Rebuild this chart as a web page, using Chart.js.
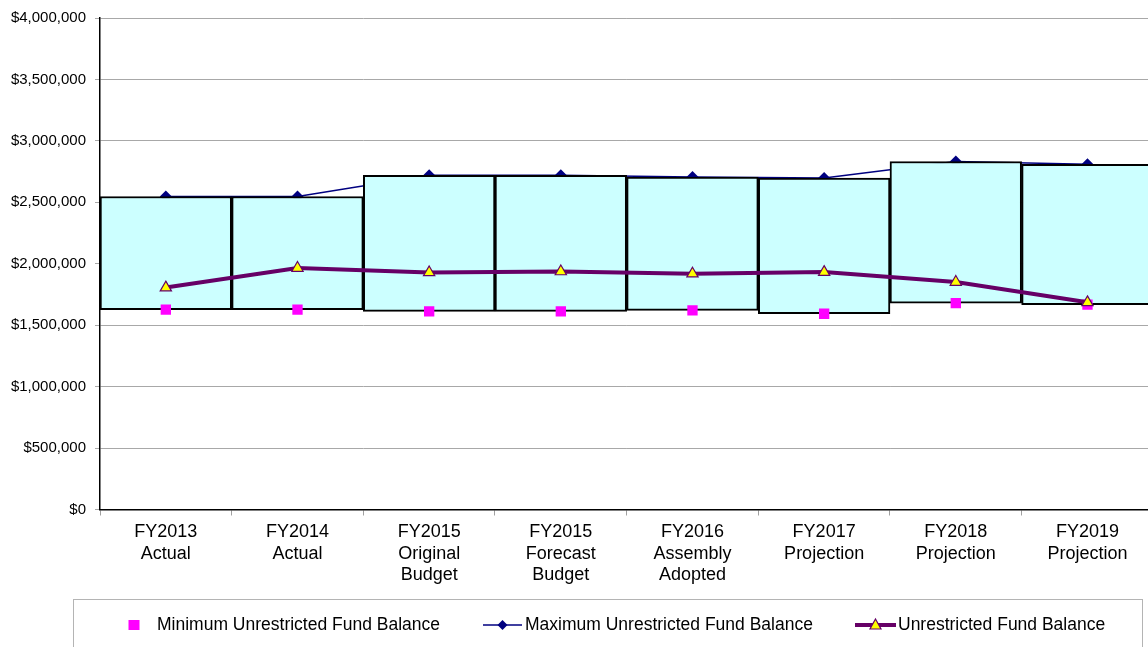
<!DOCTYPE html>
<html>
<head>
<meta charset="utf-8">
<script src="https://cdn.jsdelivr.net/npm/chart.js@4.4.1/dist/chart.umd.min.js"></script>
<style>
  html, body { margin: 0; padding: 0; background: #ffffff; overflow: hidden; }
  #wrap { width: 1148px; height: 647px; position: relative; overflow: hidden; }
  #chart { display: block; }
</style>
</head>
<body>
<div id="wrap"><canvas id="chart" width="1161" height="647"></canvas></div>
<script>
// Fiscal years shown on the category axis (multi-line labels)
const categories = [
  ['FY2013', 'Actual'],
  ['FY2014', 'Actual'],
  ['FY2015', 'Original', 'Budget'],
  ['FY2015', 'Forecast', 'Budget'],
  ['FY2016', 'Assembly', 'Adopted'],
  ['FY2017', 'Projection'],
  ['FY2018', 'Projection'],
  ['FY2019', 'Projection']
];

// Fund balance policy range and actual/projected balance, in dollars
const minBalance = [1626000, 1626000, 1612000, 1612000, 1620000, 1593000, 1680000, 1667000];
const maxBalance = [2547000, 2547000, 2720000, 2720000, 2705000, 2697000, 2832000, 2810000];
const unrestrictedBalance = [1806000, 1965000, 1929000, 1937000, 1919000, 1932000, 1851000, 1686000];

// Value axis ticks
const yTicks = [0, 500000, 1000000, 1500000, 2000000, 2500000, 3000000, 3500000, 4000000];

const seriesNames = [
  'Minimum Unrestricted Fund Balance',
  'Maximum Unrestricted Fund Balance',
  'Unrestricted Fund Balance'
];

const rangeBars = minBalance.map((lo, i) => [lo, maxBalance[i]]);

const FONT = "'Liberation Sans', Arial, sans-serif";

// Legend row with framed box beneath the axis labels
const legendBox = {
  id: 'legendBox',
  afterDraw(chart) {
    const ctx = chart.ctx;
    ctx.save();
    ctx.strokeStyle = '#b4b4b4';
    ctx.lineWidth = 1;
    ctx.strokeRect(73.5, 599.5, 1069, 60);

    const y = 625;
    ctx.font = '17.5px ' + FONT;
    ctx.fillStyle = '#000000';
    ctx.textBaseline = 'middle';
    ctx.textAlign = 'left';

    // minimum: magenta square
    ctx.fillStyle = '#ff00ff';
    ctx.fillRect(128.5, y - 5, 11, 10);
    ctx.fillStyle = '#000000';
    ctx.fillText(seriesNames[0], 157, y);

    // maximum: navy line with diamond
    ctx.strokeStyle = '#000080';
    ctx.lineWidth = 1.5;
    ctx.beginPath(); ctx.moveTo(483, y); ctx.lineTo(522, y); ctx.stroke();
    ctx.fillStyle = '#000080';
    ctx.beginPath();
    ctx.moveTo(502.5, y - 5); ctx.lineTo(507.5, y); ctx.lineTo(502.5, y + 5); ctx.lineTo(497.5, y);
    ctx.closePath(); ctx.fill();
    ctx.fillStyle = '#000000';
    ctx.fillText(seriesNames[1], 525, y);

    // balance: thick purple line with yellow triangle
    ctx.strokeStyle = '#660066';
    ctx.lineWidth = 4;
    ctx.beginPath(); ctx.moveTo(855, y); ctx.lineTo(896, y); ctx.stroke();
    ctx.fillStyle = '#ffff00';
    ctx.strokeStyle = '#660066';
    ctx.lineWidth = 1.2;
    ctx.beginPath();
    ctx.moveTo(875.5, y - 6); ctx.lineTo(881, y + 4); ctx.lineTo(870, y + 4);
    ctx.closePath(); ctx.fill(); ctx.stroke();
    ctx.fillStyle = '#000000';
    ctx.fillText(seriesNames[2], 898, y);
    ctx.restore();
  }
};

new Chart(document.getElementById('chart'), {
  data: {
    labels: categories,
    datasets: [
      {
        type: 'line',
        label: seriesNames[2],
        data: unrestrictedBalance,
        borderColor: '#660066',
        borderWidth: 4,
        pointStyle: 'triangle',
        pointRadius: 6.5,
        pointBackgroundColor: '#ffff00',
        pointBorderColor: '#660066',
        pointBorderWidth: 1.2,
        tension: 0,
        order: 0
      },
      {
        type: 'line',
        label: seriesNames[0],
        data: minBalance,
        showLine: false,
        pointStyle: 'rect',
        pointRadius: 7.3,
        pointBackgroundColor: '#ff00ff',
        pointBorderColor: '#ff00ff',
        pointBorderWidth: 0,
        order: 1
      },
      {
        type: 'bar',
        label: 'Range',
        data: rangeBars,
        backgroundColor: '#ccffff',
        borderColor: '#000000',
        borderWidth: 2,
        borderSkipped: false,
        barPercentage: 1,
        categoryPercentage: 1,
        order: 2
      },
      {
        type: 'line',
        label: seriesNames[1],
        data: maxBalance,
        borderColor: '#000080',
        borderWidth: 1.5,
        pointStyle: 'rectRot',
        pointRadius: 6,
        pointBackgroundColor: '#000080',
        pointBorderColor: '#000080',
        pointBorderWidth: 0,
        tension: 0,
        order: 3
      }
    ]
  },
  options: {
    responsive: false,
    animation: false,
    devicePixelRatio: 1,
    layout: { padding: { top: 18, right: 0, bottom: 0, left: 0 } },
    plugins: {
      legend: { display: false },
      tooltip: { enabled: false }
    },
    scales: {
      x: {
        type: 'category',
        offset: true,
        grid: {
          offset: true,
          drawOnChartArea: false,
          drawTicks: true,
          tickLength: 6,
          color: '#a0a0a0'
        },
        border: { display: true, color: '#000000', width: 1.5 },
        ticks: {
          color: '#000000',
          font: { family: FONT, size: 18, lineHeight: 1.2 },
          padding: 6,
          maxRotation: 0,
          autoSkip: false
        },
        afterFit(scale) { scale.height = 137.5; }
      },
      y: {
        min: 0,
        max: 4000000,
        afterBuildTicks(scale) { scale.ticks = yTicks.map(v => ({ value: v })); },
        grid: {
          color: '#a8a8a8',
          lineWidth: 1,
          drawTicks: true,
          tickLength: 5
        },
        border: { display: true, color: '#000000', width: 1.5 },
        ticks: {
          color: '#000000',
          font: { family: FONT, size: 15 },
          padding: 9,
          callback: v => '$' + Number(v).toLocaleString('en-US')
        },
        afterFit(scale) { scale.width = 100; }
      }
    }
  },
  plugins: [legendBox]
});
</script>
</body>
</html>
